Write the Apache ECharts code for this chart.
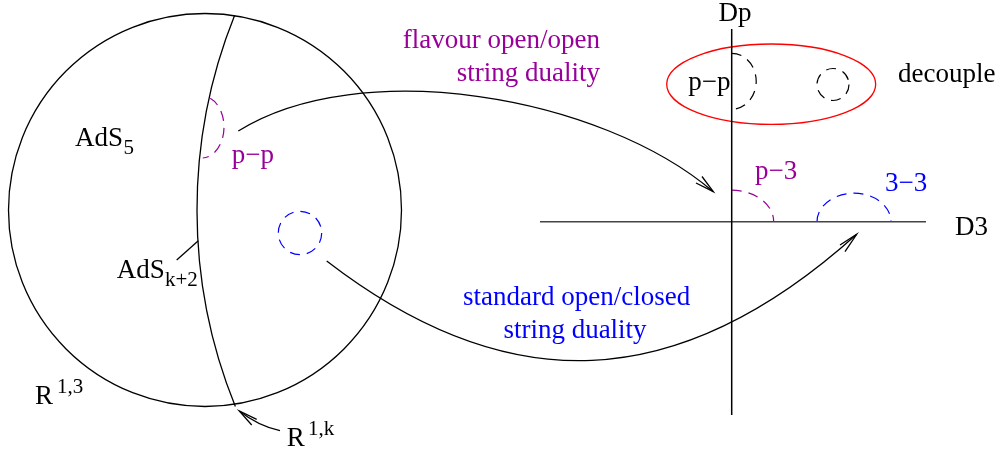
<!DOCTYPE html>
<html>
<head>
<meta charset="utf-8">
<title>open/open and open/closed string duality</title>
<script src="https://cdn.jsdelivr.net/npm/echarts@6/dist/echarts.min.js"></script>
<style>
  html, body { margin: 0; padding: 0; background: #fff; }
  #main { width: 1001px; height: 453px; }
</style>
</head>
<body>
<div id="main"></div>
<script>
  // figure units: x to the right, y downwards, same span as the page
  var figW = 1001, figH = 453;

  // ellipse arcs [cx, cy, rx, ry, startDeg, endDeg]
  var solidArcs = [
    [205, 210, 196.5, 196.5, 0, 360],      // AdS5 boundary
    [719, 210, 522, 522, 157.9, 201.9],    // AdS_{k+2} slice
    [771.2, 84.2, 104.5, 40.2, 0, 360]     // decoupled sector
  ];
  var solidArcColors = ['#000', '#000', '#ff0000'];

  var dashedArcs = [
    [202, 127, 22, 31, -68, 88],           // p-p string on the slice
    [300, 233, 21.7, 21.7, 0, 360],        // closed string
    [731.7, 81.3, 24.5, 28, -90, 90],      // p-p on Dp
    [833, 84.5, 16, 16, 0, 360],           // free closed string
    [731.7, 221.7, 42, 31.5, -90, 0],      // p-3
    [854, 221.7, 37, 28.5, 180, 360]       // 3-3
  ];
  var dashedArcColors = ['#990099', '#0000ff', '#000', '#000', '#990099', '#0000ff'];

  // straight lines [x1, y1, x2, y2]
  var lines = [
    [540, 221.7, 926, 221.7],   // D3
    [731.7, 29, 731.7, 415],    // Dp
    [176.7, 260, 198.3, 240.7]  // pointer to AdS_{k+2}
  ];
  var lineColors = ['#444', '#000', '#000'];

  // arrows: cubic curve [x0, y0, c1x, c1y, c2x, c2y, x1, y1] + head [ax, ay, bx, by]
  var curves = [
    [238.3, 131, 360, 55, 600, 95, 713.3, 191.7],
    [326.7, 261, 507, 400, 677, 396, 856.7, 234.3],
    [280, 430.7, 268, 428, 252, 421, 239.3, 411]
  ];
  var heads = [
    [702, 176.5, 696, 183],
    [840, 245, 845, 251.7],
    [256.7, 419.3, 251.7, 425]
  ];

  // labels
  var labelTexts = ['flavour open/open', 'string duality', 'standard open/closed', 'string duality',
    'AdS', '5', 'AdS', 'k+2', 'R', '1,3', 'R', '1,k',
    'p\u2212p', 'p\u2212p', 'decouple', 'p\u22123', '3\u22123', 'Dp', 'D3'];
  var labelPos = [[600, 40.5], [600, 74], [576.7, 298], [575, 331],
    [75, 139], [123.5, 148], [116.7, 271], [165, 280], [35, 397], [57, 387], [286.7, 439], [308, 429],
    [231.7, 156], [688.3, 83], [898, 74.5], [755, 172], [885, 184], [735, 14], [955, 228]];
  var labelColors = ['#990099', '#990099', '#0000ff', '#0000ff',
    '#000', '#000', '#000', '#000', '#000', '#000', '#000', '#000',
    '#990099', '#000', '#000', '#990099', '#0000ff', '#000', '#000'];
  var labelSizes = [27, 27, 27, 27, 27, 21, 27, 21, 27, 21, 27, 21, 27, 27, 27, 27, 27, 27, 27];
  var labelAlign = ['right', 'right', 'center', 'center',
    'left', 'left', 'left', 'left', 'left', 'left', 'left', 'left',
    'left', 'left', 'left', 'left', 'left', 'center', 'left'];

  var chart = echarts.init(document.getElementById('main'));

  function arcPathData(api) {
    var c = api.coord([api.value(0), api.value(1)]);
    var r = api.size([api.value(2), api.value(3)]);
    var s = api.value(4) * Math.PI / 180, e = api.value(5) * Math.PI / 180;
    function pt(t) { return (c[0] + r[0] * Math.cos(t)) + ' ' + (c[1] + r[1] * Math.sin(t)); }
    var head = 'M ' + pt(s);
    var A = ' A ' + r[0] + ' ' + r[1] + ' 0 ';
    if (e - s >= 2 * Math.PI - 1e-6) {
      return head + A + '0 1 ' + pt(s + Math.PI) + A + '0 1 ' + pt(s + 2 * Math.PI);
    }
    return head + A + ((e - s) > Math.PI ? 1 : 0) + ' 1 ' + pt(e);
  }

  function arcSeries(data, colors, dash) {
    return {
      type: 'custom',
      data: data,
      silent: true,
      renderItem: function (params, api) {
        return {
          type: 'path',
          shape: { pathData: arcPathData(api) },
          style: { fill: null, stroke: colors[params.dataIndex], lineWidth: dash ? 1.2 : 1.3, lineDash: dash ? [10, 7] : null }
        };
      }
    };
  }

  var option = {
    animation: false,
    grid: { left: 0, right: 0, top: 0, bottom: 0 },
    xAxis: { type: 'value', min: 0, max: figW, show: false },
    yAxis: { type: 'value', min: 0, max: figH, inverse: true, show: false },
    series: [
      arcSeries(solidArcs, solidArcColors, false),
      arcSeries(dashedArcs, dashedArcColors, true),
      {
        type: 'custom',
        data: lines,
        silent: true,
        renderItem: function (params, api) {
          var a = api.coord([api.value(0), api.value(1)]);
          var b = api.coord([api.value(2), api.value(3)]);
          return {
            type: 'line',
            shape: { x1: a[0], y1: a[1], x2: b[0], y2: b[1] },
            style: { stroke: lineColors[params.dataIndex], lineWidth: params.dataIndex < 2 ? 1.5 : 1.3 }
          };
        }
      },
      {
        type: 'custom',
        data: curves,
        silent: true,
        renderItem: function (params, api) {
          var p = [];
          for (var k = 0; k < 4; k++) p.push(api.coord([api.value(2 * k), api.value(2 * k + 1)]));
          var h = heads[params.dataIndex];
          var ha = api.coord([h[0], h[1]]), hb = api.coord([h[2], h[3]]);
          return {
            type: 'group',
            children: [{
              type: 'bezierCurve',
              shape: { x1: p[0][0], y1: p[0][1], cpx1: p[1][0], cpy1: p[1][1], cpx2: p[2][0], cpy2: p[2][1], x2: p[3][0], y2: p[3][1] },
              style: { fill: null, stroke: '#000', lineWidth: 1.3 }
            }, {
              type: 'polyline',
              shape: { points: [ha, p[3], hb] },
              style: { fill: null, stroke: '#000', lineWidth: 1.3 }
            }]
          };
        }
      },
      {
        type: 'custom',
        data: labelPos,
        silent: true,
        renderItem: function (params, api) {
          var i = params.dataIndex;
          var c = api.coord([api.value(0), api.value(1)]);
          return {
            type: 'text',
            x: c[0],
            y: c[1],
            style: {
              text: labelTexts[i],
              fill: labelColors[i],
              font: labelSizes[i] + 'px "Liberation Serif"',
              align: labelAlign[i],
              verticalAlign: 'middle'
            }
          };
        }
      }
    ]
  };
  chart.setOption(option);
</script>
</body>
</html>
